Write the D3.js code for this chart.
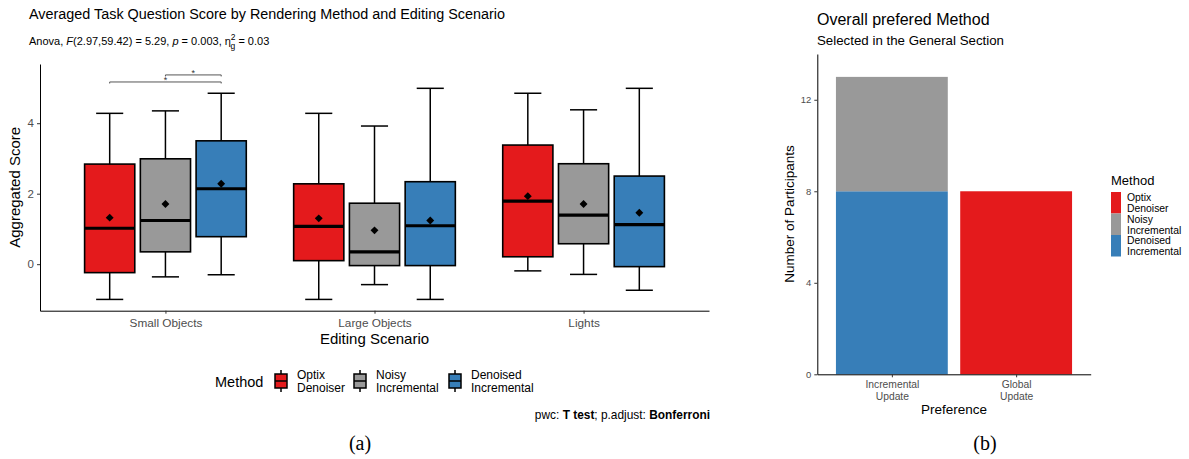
<!DOCTYPE html>
<html>
<head>
<meta charset="utf-8">
<style>
  html, body { margin: 0; padding: 0; background: #fff; }
  svg text { font-family: "Liberation Sans", Arial, sans-serif; }
  svg text.cap { font-family: "Liberation Serif", "Times New Roman", serif; }
</style>
</head>
<body>
<svg id="chart" width="1189" height="459"></svg>
<script src="https://cdn.jsdelivr.net/npm/d3@7"></script>
<script>

// ---- data ----
var scenarios = ["Small Objects", "Large Objects", "Lights"];
var methods = ["Optix Denoiser", "Noisy Incremental", "Denoised Incremental"];
var methodLines = [["Optix", "Denoiser"], ["Noisy", "Incremental"], ["Denoised", "Incremental"]];
var colors = ["#E41A1C", "#999999", "#377EB8"];

// box stats per scenario: [lower whisker, Q1, median, Q3, upper whisker, mean]
var optixStats    = [[-1.00, -0.24, 1.02, 2.84, 4.28, 1.32], [-1.00, 0.10, 1.07, 2.28, 4.28, 1.30], [-0.19, 0.21, 1.79, 3.38, 4.85, 1.93]];
var noisyStats    = [[-0.36, 0.35, 1.24, 2.99, 4.35, 1.71], [-0.58, -0.04, 0.35, 1.73, 3.92, 0.96], [-0.29, 0.58, 1.39, 2.85, 4.38, 1.71]];
var denoisedStats = [[-0.30, 0.78, 2.14, 3.50, 4.85, 2.28], [-1.00, -0.04, 1.09, 2.34, 4.99, 1.24], [-0.74, -0.07, 1.12, 2.50, 4.99, 1.46]];
var boxTicks = [0, 2, 4];

// pairwise comparisons (Small Objects): [from method, to method, y, label]
var brackets = [["Optix Denoiser", "Denoised Incremental", 5.17, "*"], ["Noisy Incremental", "Denoised Incremental", 5.37, "*"]];

// preference bar chart
var preferences = ["Incremental Update", "Global Update"];
var prefLines = [["Incremental", "Update"], ["Global", "Update"]];
var prefOptix    = [0, 8];
var prefNoisy    = [5, 0];
var prefDenoised = [8, 0];
var barTicks = [0, 4, 8, 12];

var svg = d3.select("#chart");
var statsByMethod = [optixStats, noisyStats, denoisedStats];

// ================= (a) box plot =================
var y = d3.scaleLinear().domain([-1.32, 5.68]).range([310.7, 64]);
var x = d3.scalePoint().domain(scenarios).range([40, 709]).padding(0.6);
var xm = d3.scaleBand().domain(methods).range([-0.4 * x.step(), 0.4 * x.step()]);
var bw = xm.bandwidth() * 0.9;

svg.append("text").attr("x", 29).attr("y", 19).attr("font-size", 15.5).attr("fill", "#000")
    .attr("textLength", 476).attr("lengthAdjust", "spacingAndGlyphs")
    .text("Averaged Task Question Score by Rendering Method and Editing Scenario");

var sub = svg.append("text").attr("x", 29).attr("y", 45).attr("font-size", 11).attr("fill", "#000");
sub.append("tspan").text("Anova, ");
sub.append("tspan").attr("font-style", "italic").text("F");
sub.append("tspan").text("(2.97,59.42) = 5.29, ");
sub.append("tspan").attr("font-style", "italic").text("p");
sub.append("tspan").text(" = 0.003, η");
sub.append("tspan").attr("font-size", 8.5).attr("dy", -5).text("2");
sub.append("tspan").attr("font-size", 8.5).attr("dx", -5).attr("dy", 9).text("g");
sub.append("tspan").attr("dy", -4).text(" = 0.03");

var gy = svg.append("g").attr("transform", "translate(40,0)")
    .call(d3.axisLeft(y).tickValues(boxTicks).tickFormat(d3.format("d")).tickSize(3).tickSizeOuter(0));
gy.select(".domain").attr("stroke", "#000");
gy.selectAll(".tick line").attr("stroke", "#333");
gy.selectAll(".tick text").attr("font-size", 11.5).attr("fill", "#4D4D4D");

var gx = svg.append("g").attr("transform", "translate(0," + y.range()[0] + ")")
    .call(d3.axisBottom(x).tickSize(3).tickSizeOuter(0).tickPadding(5));
gx.select(".domain").attr("stroke", "#000");
gx.selectAll(".tick line").attr("stroke", "#333");
gx.selectAll(".tick text").attr("font-size", 11.8).attr("fill", "#4D4D4D");

svg.append("text").attr("transform", "translate(19.5," + ((y.range()[0] + y.range()[1]) / 2) + ") rotate(-90)")
    .attr("text-anchor", "middle").attr("font-size", 15).text("Aggregated Score");
svg.append("text").attr("x", (x.range()[0] + x.range()[1]) / 2).attr("y", 344)
    .attr("text-anchor", "middle").attr("font-size", 15).text("Editing Scenario");

var boxData = [];
methods.forEach(function(m, mi) {
  scenarios.forEach(function(s, si) {
    var st = statsByMethod[mi][si];
    boxData.push({scenario: s, method: m, color: colors[mi], lo: st[0], q1: st[1], med: st[2], q3: st[3], hi: st[4], mean: st[5]});
  });
});

var box = svg.selectAll(".box").data(boxData).enter().append("g")
    .attr("class", "box")
    .attr("transform", function(d) { return "translate(" + (x(d.scenario) + xm(d.method) + xm.bandwidth() / 2) + ",0)"; });

box.append("line").attr("y1", function(d) { return y(d.hi); }).attr("y2", function(d) { return y(d.q3); })
    .attr("stroke", "#000").attr("stroke-width", 1.5);
box.append("line").attr("y1", function(d) { return y(d.lo); }).attr("y2", function(d) { return y(d.q1); })
    .attr("stroke", "#000").attr("stroke-width", 1.5);
box.append("line").attr("x1", -bw * 0.27).attr("x2", bw * 0.27)
    .attr("y1", function(d) { return y(d.hi); }).attr("y2", function(d) { return y(d.hi); })
    .attr("stroke", "#000").attr("stroke-width", 1.5);
box.append("line").attr("x1", -bw * 0.27).attr("x2", bw * 0.27)
    .attr("y1", function(d) { return y(d.lo); }).attr("y2", function(d) { return y(d.lo); })
    .attr("stroke", "#000").attr("stroke-width", 1.5);
box.append("rect").attr("x", -bw / 2).attr("width", bw)
    .attr("y", function(d) { return y(d.q3); })
    .attr("height", function(d) { return y(d.q1) - y(d.q3); })
    .attr("fill", function(d) { return d.color; })
    .attr("stroke", "#000").attr("stroke-width", 1.6);
box.append("line").attr("x1", -bw / 2).attr("x2", bw / 2)
    .attr("y1", function(d) { return y(d.med); }).attr("y2", function(d) { return y(d.med); })
    .attr("stroke", "#000").attr("stroke-width", 3.2);
box.append("path")
    .attr("d", d3.symbol().type(d3.symbolDiamond2).size(40))
    .attr("transform", function(d) { return "translate(0," + y(d.mean) + ")"; })
    .attr("fill", "#000");

// significance brackets
var br = svg.selectAll(".bracket").data(brackets).enter().append("g").attr("class", "bracket");
function bx(m) { return x(scenarios[0]) + xm(m) + xm.bandwidth() / 2; }
br.append("path")
    .attr("d", function(d) {
      var yy = y(d[2]);
      return "M" + bx(d[0]) + "," + (yy + 1.5) + "V" + yy + "H" + bx(d[1]) + "V" + (yy + 1.5);
    })
    .attr("fill", "none").attr("stroke", "#555").attr("stroke-width", 1);
br.append("text")
    .attr("x", function(d) { return (bx(d[0]) + bx(d[1])) / 2; })
    .attr("y", function(d) { return y(d[2]) + 1; })
    .attr("text-anchor", "middle").attr("font-size", 9).attr("fill", "#333")
    .text(function(d) { return d[3]; });

// legend (a)
svg.append("text").attr("x", 215).attr("y", 387).attr("font-size", 14.5).text("Method");
var legA = svg.selectAll(".legA").data(methods).enter().append("g").attr("class", "legA")
    .attr("transform", function(d, i) { return "translate(" + [274, 353, 448][i] + ",370)"; });
legA.append("line").attr("x1", 7).attr("x2", 7).attr("y1", 0).attr("y2", 22).attr("stroke", "#000").attr("stroke-width", 1.5);
legA.append("rect").attr("x", 1).attr("y", 4).attr("width", 12).attr("height", 14)
    .attr("fill", function(d, i) { return colors[i]; }).attr("stroke", "#000").attr("stroke-width", 1.5);
legA.append("line").attr("x1", 1).attr("x2", 13).attr("y1", 11).attr("y2", 11).attr("stroke", "#000").attr("stroke-width", 1.5);
legA.each(function(d, i) {
  var t = d3.select(this).append("text").attr("x", 23).attr("y", 9).attr("font-size", 12);
  t.append("tspan").attr("x", 23).text(methodLines[i][0]);
  t.append("tspan").attr("x", 23).attr("dy", 12.5).text(methodLines[i][1]);
});

var pwc = svg.append("text").attr("x", 710).attr("y", 419).attr("text-anchor", "end").attr("font-size", 11.9);
pwc.append("tspan").text("pwc: ");
pwc.append("tspan").attr("font-weight", "bold").text("T test");
pwc.append("tspan").text("; p.adjust: ");
pwc.append("tspan").attr("font-weight", "bold").text("Bonferroni");

svg.append("text").attr("class", "cap").attr("x", 360).attr("y", 450).attr("text-anchor", "middle").attr("font-size", 20).text("(a)");

// ================= (b) stacked bars =================
var yr = d3.scaleLinear().domain([0, 14]).range([374.3, 54]);
var xp = d3.scalePoint().domain(preferences).range([817.3, 1090.7]).padding(0.6);
var barW = xp.step() * 0.9;

svg.append("text").attr("x", 817).attr("y", 25).attr("font-size", 16).text("Overall prefered Method");
svg.append("text").attr("x", 817).attr("y", 45).attr("font-size", 13.3).text("Selected in the General Section");

var stackRows = preferences.map(function(p, i) {
  return {pref: p, "Optix Denoiser": prefOptix[i], "Noisy Incremental": prefNoisy[i], "Denoised Incremental": prefDenoised[i]};
});
var stackOrder = ["Denoised Incremental", "Noisy Incremental", "Optix Denoiser"];
var series = d3.stack().keys(stackOrder)(stackRows);

svg.selectAll(".layer").data(series).enter().append("g").attr("class", "layer")
    .attr("fill", function(d) { return colors[methods.indexOf(d.key)]; })
  .selectAll("rect").data(function(d) { return d; }).enter().append("rect")
    .attr("x", function(d) { return xp(d.data.pref) - barW / 2; })
    .attr("width", barW)
    .attr("y", function(d) { return yr(d[1]); })
    .attr("height", function(d) { return yr(d[0]) - yr(d[1]); });

var gyr = svg.append("g").attr("transform", "translate(817.3,0)")
    .call(d3.axisLeft(yr).tickValues(barTicks).tickSize(3).tickSizeOuter(0));
gyr.select(".domain").attr("stroke", "#000");
gyr.selectAll(".tick line").attr("stroke", "#333");
gyr.selectAll(".tick text").attr("font-size", 9.5).attr("fill", "#4D4D4D");

var gxr = svg.append("g").attr("transform", "translate(0,374.3)")
    .call(d3.axisBottom(xp).tickSize(3).tickSizeOuter(0).tickFormat(""));
gxr.select(".domain").attr("stroke", "#000");
gxr.selectAll(".tick line").attr("stroke", "#333");
gxr.selectAll(".tick").each(function(d, i) {
  var t = d3.select(this).append("text").attr("y", 14).attr("text-anchor", "middle")
      .attr("font-size", 10.3).attr("fill", "#4D4D4D");
  t.append("tspan").attr("x", 0).text(prefLines[i][0]);
  t.append("tspan").attr("x", 0).attr("dy", 12).text(prefLines[i][1]);
});

svg.append("text").attr("x", 954).attr("y", 414).attr("text-anchor", "middle").attr("font-size", 13.5).text("Preference");
svg.append("text").attr("transform", "translate(794,214) rotate(-90)").attr("text-anchor", "middle")
    .attr("font-size", 13.5).text("Number of Participants");

// legend (b)
svg.append("text").attr("x", 1111).attr("y", 185).attr("font-size", 13).text("Method");
var legB = svg.selectAll(".legB").data(methods).enter().append("g").attr("class", "legB")
    .attr("transform", function(d, i) { return "translate(1111," + (192 + i * 21.5) + ")"; });
legB.append("rect").attr("width", 10).attr("height", 21.5).attr("fill", function(d, i) { return colors[i]; });
legB.each(function(d, i) {
  var t = d3.select(this).append("text").attr("x", 16).attr("y", 9).attr("font-size", 10.4);
  t.append("tspan").attr("x", 16).text(methodLines[i][0]);
  t.append("tspan").attr("x", 16).attr("dy", 11).text(methodLines[i][1]);
});

svg.append("text").attr("class", "cap").attr("x", 985).attr("y", 450).attr("text-anchor", "middle").attr("font-size", 20).text("(b)");

</script>
</body>
</html>
